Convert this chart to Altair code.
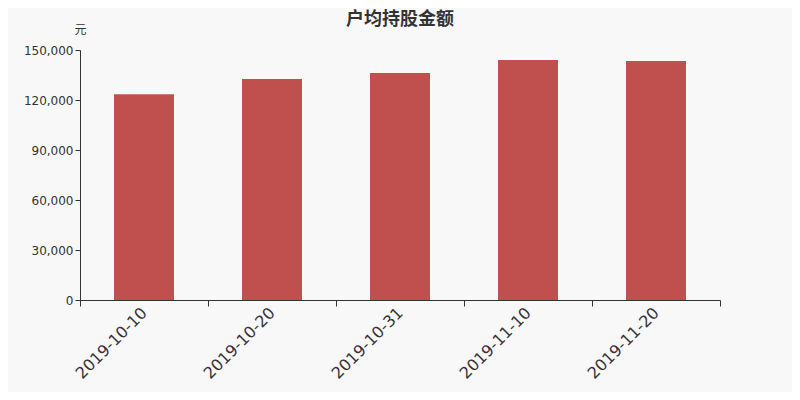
import altair as alt
import pandas as pd

dates = ["2019-10-10", "2019-10-20", "2019-10-31", "2019-11-10", "2019-11-20"]
values = [123400, 132600, 136200, 144000, 143400]

df = pd.DataFrame({"date": dates, "value": values})

chart = alt.Chart(df).mark_bar(color="#C0504D", width=60).encode(
    x=alt.X("date:N", sort=dates, title=None,
            scale=alt.Scale(paddingInner=0, paddingOuter=0),
            axis=alt.Axis(labelAngle=-45, labelFontSize=16, labelColor="#333333",
                          labelFont="DejaVu Sans", tickBand="extent",
                          labelAlign="right", labelBaseline="middle",
                          domainColor="#333333", tickColor="#333333",
                          tickSize=6, labelPadding=4)),
    y=alt.Y("value:Q", title="元", scale=alt.Scale(domain=[0, 150000]),
            axis=alt.Axis(values=[0, 30000, 60000, 90000, 120000, 150000],
                          format=",d", grid=False, labelFontSize=12,
                          labelColor="#333333", labelFont="DejaVu Sans",
                          domainColor="#333333", tickColor="#333333", tickSize=5,
                          titleAngle=0, titleX=0, titleY=-21, titleAlign="center",
                          titleBaseline="middle", titleFontSize=12,
                          titleFontWeight="normal", titleColor="#333333",
                          titleFont="Noto Sans CJK SC")),
).properties(
    width=640, height=250,
    title=alt.TitleParams("户均持股金额", fontSize=18, fontWeight="bold",
                          font="Noto Sans CJK SC", color="#333333",
                          anchor="middle", offset=2, dy=8),
    autosize=alt.AutoSizeParams(type="none"),
    padding={"left": 72, "top": 42, "right": 72, "bottom": 92},
    background="#F8F8F8",
).configure_view(stroke=None)

chart.save("out.html", embed_options={"renderer": "svg", "actions": False})
